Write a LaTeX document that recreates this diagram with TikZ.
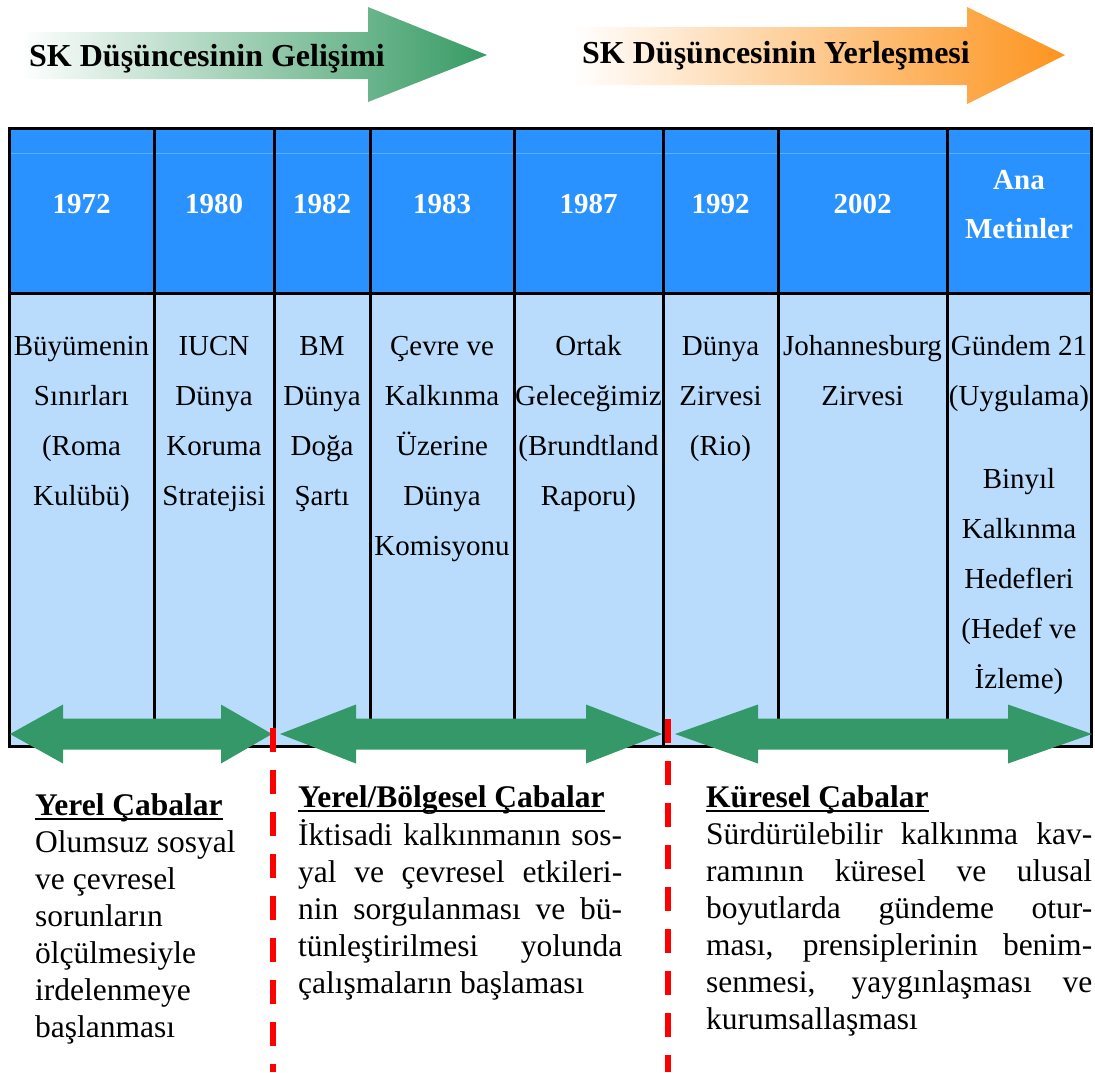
\documentclass[tikz,border=0pt]{standalone}
\usepackage{fontspec}
\setmainfont{Liberation Serif}
\usepackage{tikz}
\usepackage{xcolor}
\definecolor{ColHead}{RGB}{41,146,255}
\definecolor{ColBody}{RGB}{185,220,253}
\definecolor{ColLine}{RGB}{95,172,255}
\definecolor{ColArrow}{RGB}{52,152,104}
\definecolor{ColGreen}{RGB}{55,155,100}
\definecolor{ColOrange}{RGB}{253,148,30}
\definecolor{ColRed}{RGB}{255,0,0}
\newcommand{\UlText}[1]{\setbox0\hbox{\textbf{#1}}\rlap{\rule[-5pt]{\wd0}{2.5pt}}\box0}
\tikzstyle{TitleText}=[inner sep=0pt,anchor=base west,font=\fontsize{32}{38}\selectfont\bfseries]
\tikzstyle{YearCell}=[inner sep=0pt,align=center,text=white,
font=\fontsize{29}{49}\selectfont\bfseries]
\tikzstyle{TextCell}=[anchor=north,inner sep=0pt,align=center,font=\fontsize{29}{50}\selectfont]
\tikzstyle{NoteText}=[anchor=north west,inner sep=0pt,align=left,font=\fontsize{31.5}{37}\selectfont]
\tikzstyle{BandArrow}=[fill=ColArrow]
\tikzstyle{Border}=[line width=3pt,black]
\tikzstyle{RedCut}=[ColRed,line width=6pt,dash pattern=on 24pt off 18pt]

\begin{document}
\begin{tikzpicture}[x=1pt,y=-1pt]
        \useasboundingbox(0,0)rectangle(1095,1072);
        % title arrows
        \shade[left color=white,right color=ColGreen](20,32)--(368,32)--(368,7)--(487,55)--(368,102)--(368,79)--(20,79)--cycle;
        \shade[left color=white,right color=ColOrange](573,27)--(967,27)--(967,7)--(1065,55)--(967,104)--(967,85)--(573,85)--cycle;
        \node[TitleText](devtitle)at(29,66){SK Düşüncesinin Gelişimi};
        \node[TitleText](settitle)at(582,63){SK Düşüncesinin Yerleşmesi};
        % table
        \fill[ColHead](9,128)rectangle(1091,293);
        \fill[ColBody](9,293)rectangle(1091,746);
        \draw[ColLine,line width=1pt](9,153)--(1091,153);
        \draw[Border](9,128)rectangle(1091,746);
        \draw[Border](9,293)--(1091,293);
        \draw[Border](154,128)--(154,746);
        \draw[Border](274,128)--(274,746);
        \draw[Border](370,128)--(370,746);
        \draw[Border](514,128)--(514,746);
        \draw[Border](663,128)--(663,746);
        \draw[Border](778,128)--(778,746);
        \draw[Border](947,128)--(947,746);
        \node[YearCell](y1)at(81.5,204){1972};
        \node[YearCell](y2)at(214,204){1980};
        \node[YearCell](y3)at(322,204){1982};
        \node[YearCell](y4)at(442,204){1983};
        \node[YearCell](y5)at(588.5,204){1987};
        \node[YearCell](y6)at(720.5,204){1992};
        \node[YearCell](y7)at(862.5,204){2002};
        \node[YearCell](y8)at(1019,205){Ana\\Metinler};
        \node[TextCell](c1)at(81.5,320){\strut Büyümenin\\Sınırları\\(Roma\\Kulübü)};
        \node[TextCell](c2)at(214,320){\strut IUCN\\Dünya\\Koruma\\Stratejisi};
        \node[TextCell](c3)at(322,320){\strut BM\\Dünya\\Doğa\\Şartı};
        \node[TextCell](c4)at(442,320){\strut Çevre ve\\Kalkınma\\Üzerine\\Dünya\\Komisyonu};
        \node[TextCell](c5)at(588.5,320){\strut Ortak\\Geleceğimiz\\(Brundtland\\Raporu)};
        \node[TextCell](c6)at(720.5,320){\strut Dünya\\Zirvesi\\(Rio)};
        \node[TextCell](c7)at(862.5,320){\strut Johannesburg\\Zirvesi};
        \node[TextCell](c8a)at(1019,320){\strut Gündem 21\\(Uygulama)};
        \node[TextCell](c8b)at(1019,453){\strut Binyıl\\Kalkınma\\Hedefleri\\(Hedef ve\\İzleme)};
        % period arrows
        \fill[BandArrow](10,734)--(63,704.5)--(63,718.5)--(221,718.5)--(221,704.5)--(272,734)--(221,763.5)--(221,749.5)--(63,749.5)--(63,763.5)--cycle;
        \fill[BandArrow](280,734)--(356,704.5)--(356,718.5)--(586,718.5)--(586,704.5)--(662,734)--(586,763.5)--(586,749.5)--(356,749.5)--(356,763.5)--cycle;
        \fill[BandArrow](675,734)--(758,704.5)--(758,718.5)--(1008,718.5)--(1008,704.5)--(1092,734)--(1008,763.5)--(1008,749.5)--(758,749.5)--(758,763.5)--cycle;
        \draw[RedCut](273,728)--(273,1072);
        \draw[RedCut](668,719)--(668,1072);
        % notes
        \node[NoteText](localnote)at(35,789){\strut\UlText{Yerel Çabalar}\\Olumsuz sosyal\\ve çevresel\\sorunların\\ölçülmesiyle\\irdelenmeye\\başlanması};
        \node[NoteText,text width=324pt,align=justify](regionnote)at(298,781){\strut\UlText{Yerel/Bölgesel Çabalar}\\İktisadi kalkınmanın sos-\linebreak yal ve çevresel etkileri-\linebreak nin sorgulanması ve bü-\linebreak tünleştirilmesi yolunda\linebreak çalışmaların başlaması};
        \node[NoteText,text width=386pt,align=justify](globalnote)at(706,781){\strut\UlText{Küresel Çabalar}\\Sürdürülebilir kalkınma kav-\linebreak ramının küresel ve ulusal\linebreak boyutlarda gündeme otur-\linebreak ması, prensiplerinin benim-\linebreak senmesi, yaygınlaşması ve\linebreak kurumsallaşması};
    \end{tikzpicture}
\end{document}
